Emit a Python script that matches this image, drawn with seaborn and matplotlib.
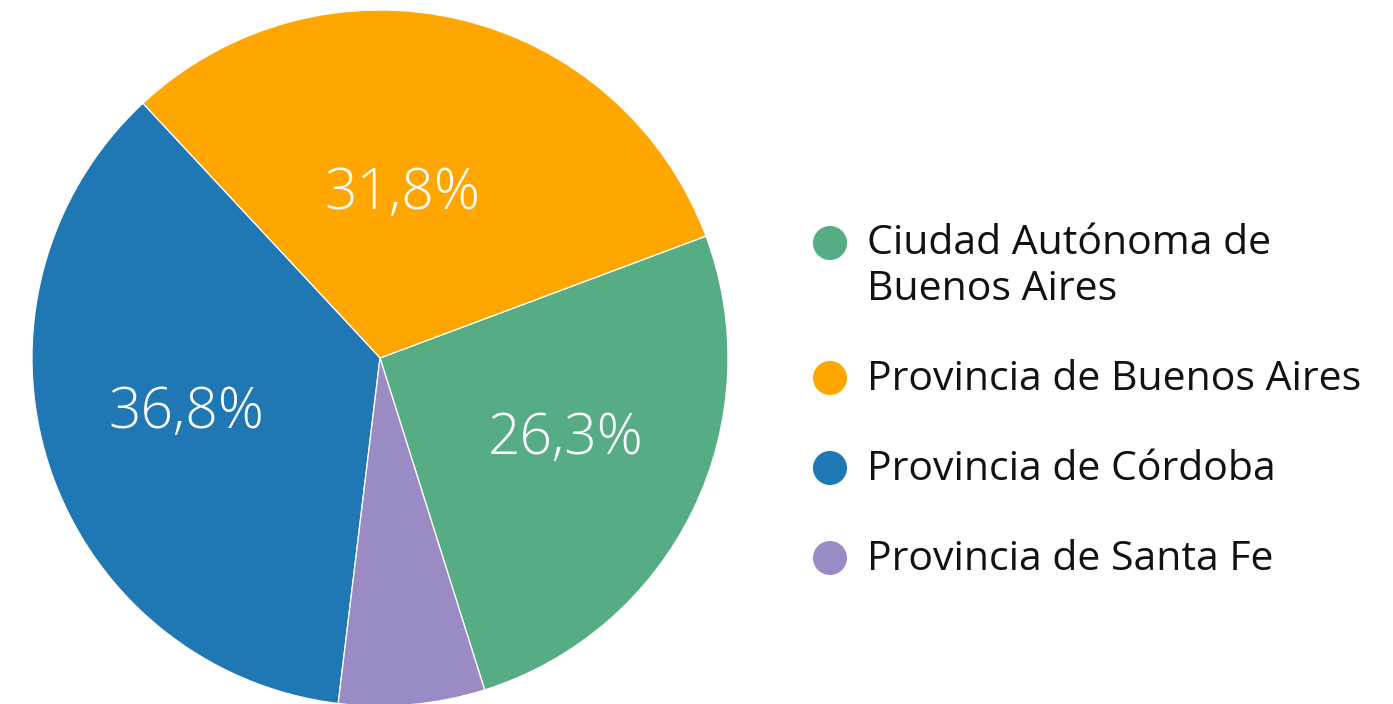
import matplotlib
matplotlib.use("Agg")
import numpy as np
import matplotlib.pyplot as plt
import seaborn as sns

# data
provinces = ["Ciudad Autónoma de\nBuenos Aires", "Provincia de Buenos Aires",
             "Provincia de Córdoba", "Provincia de Santa Fe"]
shares = [26.3, 31.8, 36.8, 6.9]
shown_labels = ["26,3%", "31,8%", "36,8%", ""]
colors = ["#57ad83", "#ffa600", "#1f77b4", "#9b8bc4"]

sns.set_theme(style="white")
plt.rcParams["font.family"] = ["Open Sans", "DejaVu Sans"]

W, H = 1393, 704
fig = plt.figure(figsize=(W / 100, H / 100), dpi=100)

# pie axes: centre (380, 358) px, radius 348 px
cx, cy, r = 380, 358, 348
ax = fig.add_axes([(cx - r) / W, (H - cy - r) / H, 2 * r / W, 2 * r / H])
wedges, _ = ax.pie(shares, colors=colors, startangle=-72.5, counterclock=True,
                   radius=1, wedgeprops=dict(edgecolor="white", linewidth=0.9))
ax.set_xlim(-1, 1)
ax.set_ylim(-1, 1)
ax.set_aspect("equal")
ax.axis("off")

# label placement along each wedge (radius fraction, angle nudge)
label_dist = [0.59, 0.45, 0.59, 0.5]
label_turn = [0, 5.5, 0, 0]
for w, txt, d, t in zip(wedges, shown_labels, label_dist, label_turn):
    if not txt:
        continue
    ang = np.deg2rad((w.theta1 + w.theta2) / 2 + t)
    ax.annotate(txt, (d * np.cos(ang), d * np.sin(ang)), xytext=(1, 6),
                textcoords="offset points", ha="center", va="center",
                color="white", fontsize=41, fontweight=300)

# legend drawn by hand so the dot sits on the first text line
lg = fig.add_axes([0, 0, 1, 1])
lg.set_xlim(0, W)
lg.set_ylim(H, 0)
lg.axis("off")
y = 243
for name, col in zip(provinces, colors):
    extra = name.count("\n")
    lg.scatter([830], [y], s=34 ** 2 * 0.52, color=col, edgecolor="none")
    lg.text(867, y + 12 + 45 * extra, name, ha="left", va="baseline",
            fontsize=29.5, color="#111111", linespacing=1.17)
    y += 90 + 45 * extra

fig.savefig("out.png", dpi=100, facecolor="white")
